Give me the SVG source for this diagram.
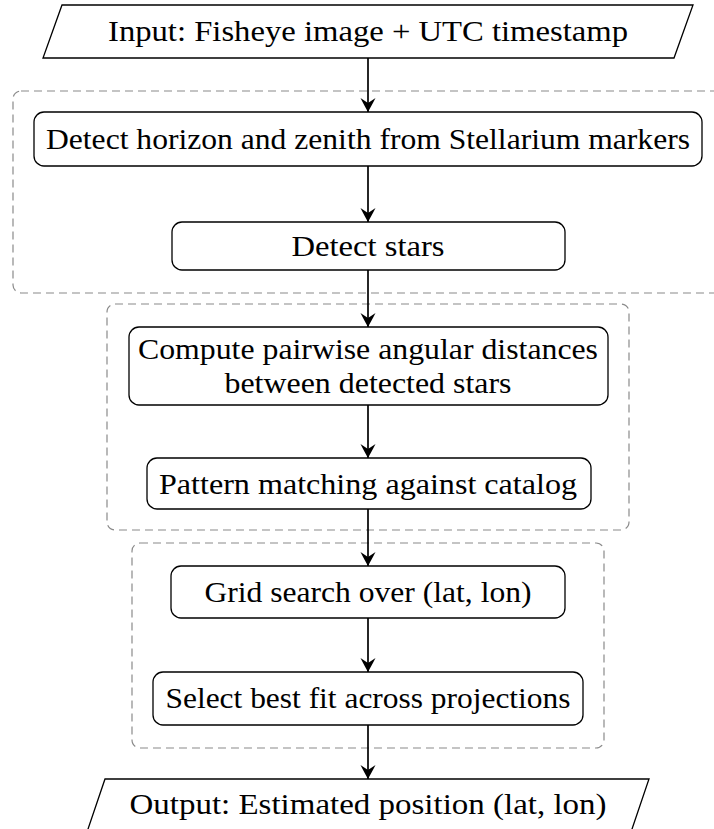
<svg xmlns="http://www.w3.org/2000/svg" width="714" height="829" viewBox="0 0 714 829">
  <style>
    .node { fill: #ffffff; stroke: #000000; stroke-width: 1.3; }
    .group { fill: none; stroke: #8a8a8a; stroke-width: 1.2; stroke-dasharray: 8 5; }
    .label { font-family: "Liberation Serif", "Times New Roman", serif; font-size: 30px; fill: #000000; text-anchor: middle; dominant-baseline: central; }
    .edge { fill: none; stroke: #000000; stroke-width: 1.7; marker-end: url(#stealth); }
  </style>
  <defs>
    <marker id="stealth" markerUnits="userSpaceOnUse" markerWidth="18" markerHeight="18" viewBox="-15 -9 16 18" refX="0" refY="0" orient="auto">
      <path d="M0,0 C-3.5,-1.8 -8,-4.5 -14,-7.5 L-9,0 L-14,7.5 C-8,4.5 -3.5,1.8 0,0 Z" fill="#000000"/>
    </marker>
  </defs>

  <rect width="714" height="829" fill="#ffffff"/>

  <!-- stage groupings -->
  <g id="groups">
    <rect class="group" x="13" y="91" width="720" height="202" rx="8"/>
    <rect class="group" x="107" y="304" width="522" height="226" rx="8"/>
    <rect class="group" x="132" y="543" width="472" height="205" rx="8"/>
  </g>

  <!-- connectors -->
  <g id="connectors">
    <line class="edge" x1="368" y1="58" x2="368" y2="112"/>
    <line class="edge" x1="368" y1="166" x2="368" y2="222"/>
    <line class="edge" x1="368" y1="270" x2="368" y2="327"/>
    <line class="edge" x1="368" y1="405" x2="368" y2="458"/>
    <line class="edge" x1="368" y1="509" x2="368" y2="566"/>
    <line class="edge" x1="368" y1="618" x2="368" y2="672"/>
    <line class="edge" x1="368" y1="725" x2="368" y2="779"/>
  </g>

  <g id="input">
    <polygon class="node" points="62,5 693,5 674,58 43,58"/>
    <text class="label" x="368" y="30" textLength="520" lengthAdjust="spacingAndGlyphs">Input: Fisheye image + UTC timestamp</text>
  </g>

  <g id="detect-horizon">
    <rect class="node" x="34" y="112" width="668" height="54" rx="10"/>
    <text class="label" x="368" y="138" textLength="644" lengthAdjust="spacingAndGlyphs">Detect horizon and zenith from Stellarium markers</text>
  </g>

  <g id="detect-stars">
    <rect class="node" x="172" y="222" width="393" height="48" rx="10"/>
    <text class="label" x="368" y="245" textLength="153" lengthAdjust="spacingAndGlyphs">Detect stars</text>
  </g>

  <g id="pairwise-distances">
    <rect class="node" x="129" y="327" width="479" height="78" rx="10"/>
    <text class="label" x="368" y="348" textLength="460" lengthAdjust="spacingAndGlyphs">Compute pairwise angular distances</text>
    <text class="label" x="368" y="382" textLength="287" lengthAdjust="spacingAndGlyphs">between detected stars</text>
  </g>

  <g id="pattern-matching">
    <rect class="node" x="147" y="458" width="444" height="51" rx="10"/>
    <text class="label" x="368" y="483" textLength="418" lengthAdjust="spacingAndGlyphs">Pattern matching against catalog</text>
  </g>

  <g id="grid-search">
    <rect class="node" x="171" y="566" width="394" height="52" rx="10"/>
    <text class="label" x="368" y="591" textLength="327" lengthAdjust="spacingAndGlyphs">Grid search over (lat, lon)</text>
  </g>

  <g id="select-best">
    <rect class="node" x="153" y="672" width="430" height="53" rx="10"/>
    <text class="label" x="368" y="697" textLength="405" lengthAdjust="spacingAndGlyphs">Select best fit across projections</text>
  </g>

  <g id="output">
    <polygon class="node" points="105,779 649,779 631,832 87,832"/>
    <text class="label" x="368" y="803" textLength="477" lengthAdjust="spacingAndGlyphs">Output: Estimated position (lat, lon)</text>
  </g>
</svg>
